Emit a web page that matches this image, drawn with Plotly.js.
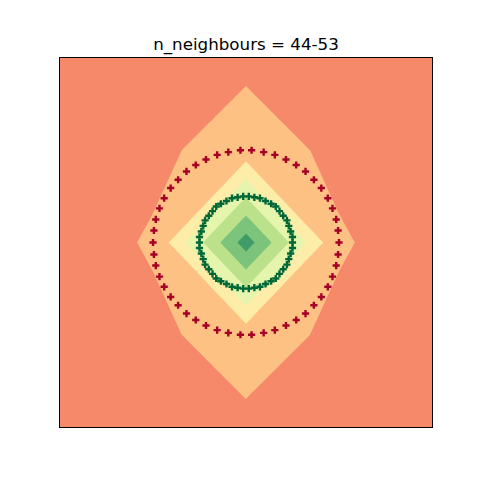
<!DOCTYPE html>
<html>
<head>
<meta charset="utf-8">
<script src="https://cdn.plot.ly/plotly-3.0.1.min.js"></script>
<style>html,body{margin:0;padding:0;background:#fff;}#chart{width:480px;height:480px;}</style>
</head>
<body>
<div id="chart"></div>
<script>
// Probability grid (class "inner")
const gridX = [-2, -1, 0, 1, 2];
const gridY = [-2, -1, 0, 1, 2];
const probRowM2 = [0.40, 0.40, 0.433, 0.40, 0.40];
const probRowM1 = [0.40, 0.4325, 0.489, 0.4325, 0.40];
const probRow0  = [0.411, 0.458, 1.00, 0.458, 0.411];
const probRowP1 = [0.40, 0.4325, 0.489, 0.4325, 0.40];
const probRowP2 = [0.40, 0.40, 0.433, 0.40, 0.40];

// Contour levels and band colours (lowest band first)
const levelStart = 0.45, levelEnd = 0.95, levelStep = 0.1;
const bandColors = ['#f6896a', '#fdc184', '#feeca9', '#e6f5ae', '#bbe28a', '#7cc47c', '#3f9b68'];

// Training points
const outerX = [1.00,0.99,0.97,0.93,0.88,0.81,0.73,0.64,0.54,0.43,0.31,0.19,0.06,-0.06,-0.19,-0.31,-0.43,-0.54,-0.64,-0.73,-0.81,-0.88,-0.93,-0.97,-0.99,-1.00,-0.99,-0.97,-0.93,-0.88,-0.81,-0.73,-0.64,-0.54,-0.43,-0.31,-0.19,-0.06,0.06,0.19,0.31,0.43,0.54,0.64,0.73,0.81,0.88,0.93,0.97,0.99];
const outerY = [0.00,0.13,0.25,0.37,0.48,0.59,0.68,0.77,0.84,0.90,0.95,0.98,1.00,1.00,0.98,0.95,0.90,0.84,0.77,0.68,0.59,0.48,0.37,0.25,0.13,0.00,-0.13,-0.25,-0.37,-0.48,-0.59,-0.68,-0.77,-0.84,-0.90,-0.95,-0.98,-1.00,-1.00,-0.98,-0.95,-0.90,-0.84,-0.77,-0.68,-0.59,-0.48,-0.37,-0.25,-0.13];
const innerX = [0.50,0.50,0.48,0.46,0.44,0.40,0.36,0.32,0.27,0.21,0.15,0.09,0.03,-0.03,-0.09,-0.15,-0.21,-0.27,-0.32,-0.36,-0.40,-0.44,-0.46,-0.48,-0.50,-0.50,-0.50,-0.48,-0.46,-0.44,-0.40,-0.36,-0.32,-0.27,-0.21,-0.15,-0.09,-0.03,0.03,0.09,0.15,0.21,0.27,0.32,0.36,0.40,0.44,0.46,0.48,0.50];
const innerY = [0.00,0.06,0.12,0.18,0.24,0.29,0.34,0.39,0.42,0.45,0.48,0.49,0.50,0.50,0.49,0.48,0.45,0.42,0.39,0.34,0.29,0.24,0.18,0.12,0.06,0.00,-0.06,-0.12,-0.18,-0.24,-0.29,-0.34,-0.39,-0.42,-0.45,-0.48,-0.49,-0.50,-0.50,-0.49,-0.48,-0.45,-0.42,-0.39,-0.34,-0.29,-0.24,-0.18,-0.12,-0.06];

const titleText = 'n_neighbours = 44-53';

// stepwise colorscale from band colours
const n = bandColors.length;
const colorscale = [];
bandColors.forEach((c, i) => {
  colorscale.push([i / n, c]);
  colorscale.push([(i + 1) / n, c]);
});

const traces = [
  {
    type: 'contour',
    x: gridX, y: gridY,
    z: [probRowM2, probRowM1, probRow0, probRowP1, probRowP2],
    colorscale: colorscale,
    showscale: false,
    contours: {start: levelStart, end: levelEnd, size: levelStep, coloring: 'fill', showlines: false},
    line: {width: 0, smoothing: 0},
    hoverinfo: 'skip'
  },
  {
    type: 'scatter', mode: 'markers',
    x: outerX, y: outerY,
    marker: {symbol: 'cross', size: 6, color: '#a50026', line: {width: 0}},
    hoverinfo: 'skip'
  },
  {
    type: 'scatter', mode: 'markers',
    x: innerX, y: innerY,
    marker: {symbol: 'cross', size: 6, color: '#006837', line: {width: 0}},
    hoverinfo: 'skip'
  }
];

const axisCommon = {
  range: [-2, 2], showgrid: false, zeroline: false, showticklabels: false, ticks: '',
  showline: true, mirror: true, linecolor: '#000', linewidth: 1
};

const layout = {
  width: 480, height: 480,
  margin: {l: 60, r: 48, t: 57.6, b: 52.8, pad: 0},
  paper_bgcolor: '#fff', plot_bgcolor: '#fff',
  showlegend: false,
  title: {
    text: titleText,
    font: {family: 'DejaVu Sans', size: 16.7, color: '#000'},
    x: 0.5, xref: 'paper', xanchor: 'center',
    y: 1 - 44.5 / 480, yref: 'container', yanchor: 'middle'
  },
  xaxis: Object.assign({}, axisCommon),
  yaxis: Object.assign({}, axisCommon)
};

Plotly.newPlot('chart', traces, layout, {staticPlot: true, displayModeBar: false});
</script>
</body>
</html>
